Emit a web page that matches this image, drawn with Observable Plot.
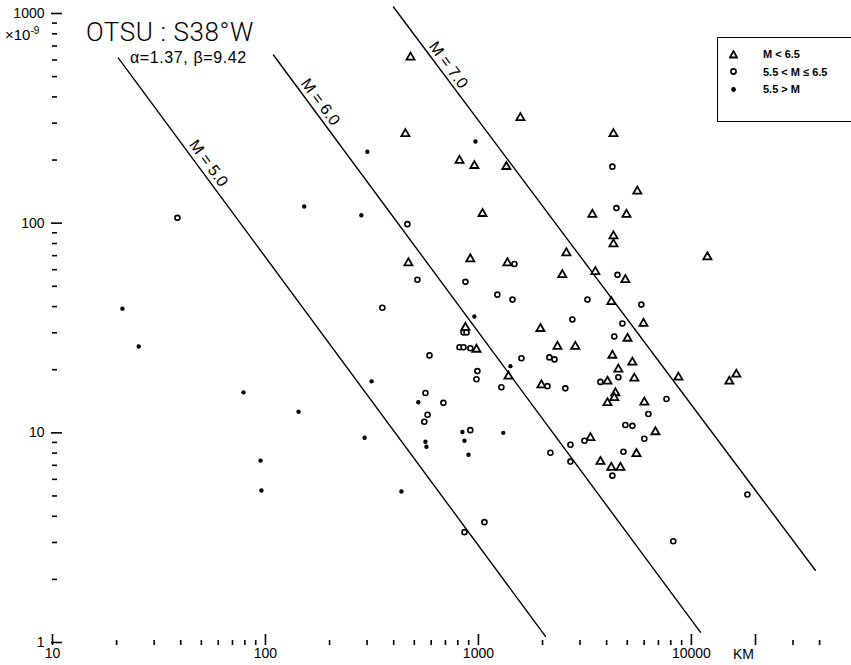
<!DOCTYPE html>
<html>
<head>
<meta charset="utf-8">
<script src="https://cdn.jsdelivr.net/npm/d3@7"></script>
<script src="https://cdn.jsdelivr.net/npm/@observablehq/plot@0.6"></script>
<style>
  body { margin: 0; background: #fff; overflow: hidden; }
  #wrap { position: relative; width: 851px; height: 665px; overflow: hidden; font-family: "Liberation Sans", Arial, sans-serif; color: #000; }
  #wrap svg { display: block; }
  .title { position: absolute; left: 86px; top: 19px; font-family: Roboto, "Liberation Sans", Arial, sans-serif; font-size: 26px; line-height: 1; font-weight: 300; letter-spacing: 0.6px; white-space: nowrap; }
  .subtitle { position: absolute; left: 130px; top: 50px; font-size: 16px; line-height: 1; letter-spacing: 0.6px; white-space: nowrap; }
  .unit { position: absolute; left: 5px; top: 26px; font-size: 15px; line-height: 1; white-space: nowrap; }
  .km { position: absolute; left: 733px; top: 647px; font-size: 14px; line-height: 1; white-space: nowrap; }
  .legend { position: absolute; left: 717px; top: 37px; width: 170px; height: 85px; border: 1.3px solid #000; box-sizing: border-box; background: #fff; }
  .legend .row { position: absolute; left: 11px; height: 14px; display: flex; align-items: center; font-size: 11px; font-weight: bold; white-space: nowrap; }
  .legend .row svg { margin-right: 25px; }
</style>
</head>
<body>
<div id="wrap"></div>
<script>
// ---- data (distance in km, amplitude x10^-9) ----
const triangles = [
  [480,618],[1574,318],[454,267],[4305,267],[815,199],[957,188],[1352,186],[5570,142],
  [4955,110],[3427,110],[1045,111],[4305,86.8],[4305,79.5],[916,67.5],[469,64.6],[2588,72.1],
  [1368,64.6],[3540,58.6],[4898,53.7],[2477,56.7],[4207,42.2],[5957,33.2],[869,31.8],[1955,31.4],
  [5012,28.2],[979,25.0],[2350,25.8],[2851,25.8],[4256,23.4],[5284,21.7],[4540,20.1],[5395,18.2],
  [8690,18.4],[1384,18.6],[1977,16.9],[4036,17.6],[4395,15.5],[4345,14.7],[4036,13.9],[6012,14.0],
  [6776,10.1],[3357,9.47],[5521,7.95],[3741,7.29],[4207,6.83],[4645,6.83],[11885,69.0],[16255,19.0],
  [15070,17.6]
];
const circles = [
  [4256,186],[4446,118],[464,98.9],[1476,63.9],[4497,56.7],[517,53.7],[869,52.5],[354,39.5],
  [1227,45.6],[1445,43.2],[3251,43.2],[5821,40.9],[2761,34.7],[4743,33.2],[851,30.1],[879,30.1],
  [4345,28.8],[815,25.6],[851,25.6],[916,25.3],[589,23.4],[1592,22.7],[2153,22.9],[2275,22.4],
  [4540,18.4],[989,19.7],[979,18.0],[1282,16.5],[2109,16.7],[2559,16.3],[3741,17.5],[7638,14.5],
  [6281,12.3],[564,15.5],[685,13.9],[577,12.2],[557,11.3],[916,10.3],[2704,8.77],[3148,9.16],
  [4898,10.9],[5284,10.8],[6012,9.37],[2178,8.04],[2704,7.29],[4797,8.13],[4256,6.25],[18323,5.08],
  [1067,3.75],[860,3.36],[8222,3.04],[38.6,106]
];
const filled = [
  [968,245],[957,35.9],[1413,20.8],[522,14.0],[841,10.1],[1308,10.0],[860,9.16],[564,9.06],
  [570,8.58],[898,7.86],[435,5.25],[301,219],[152,120],[282,109],[21.3,39.1],[25.4,25.8],
  [315,17.6],[78.9,15.6],[143,12.6],[292,9.47],[94.8,7.37],[95.7,5.31]
];
// magnitude lines: end points [distance, amplitude]
const magnitudes = ["M = 5.0", "M = 6.0", "M = 7.0"];
const lineStart = [[20.4,613],[109,634],[399,1074]];
const lineEnd   = [[2065,1.07],[11020,1.12],[38200,2.21]];
const labelPos  = [[54,193],[181,378],[723,568]];

const xMajor = [10, 100, 1000, 10000, 20000];
const xMinor = [20,30,40,50,60,70,80,90,200,300,400,500,600,700,800,900,
                2000,3000,4000,5000,6000,7000,8000,9000,30000,40000];
const xLabelValues = [10, 100, 1000, 10000];
const xLabelText = ["10", "100", "1000", "10000"];
const yMajor = [1, 10, 100, 1000];
const yMinor = [2,3,4,5,6,7,8,9,20,30,40,50,60,70,80,90,200,300,400,500,600,700,800,900];
const yLabelText = ["1", "10", "100", "1000"];
const legendItems = ["M < 6.5", "5.5 < M ≤ 6.5", "5.5 > M"];

// ---- tables for the library ----
const toRows = arr => arr.map(([d, a]) => ({d, a}));
const lineRows = magnitudes.flatMap((m, i) => [
  {m, d: lineStart[i][0], a: lineStart[i][1]},
  {m, d: lineEnd[i][0], a: lineEnd[i][1]}
]);
const labelRows = magnitudes.map((m, i) => ({m, d: labelPos[i][0], a: labelPos[i][1]}));
const xFmt = new Map(xLabelValues.map((v, i) => [v, xLabelText[i]]));
const yFmt = new Map(yMajor.map((v, i) => [v, yLabelText[i]]));

const chart = Plot.plot({
  width: 851,
  height: 665,
  marginLeft: 52,
  marginRight: 21,
  marginTop: 13,
  marginBottom: 23,
  x: {type: "log", domain: [10, 45000], label: null},
  y: {type: "log", domain: [1, 1000], label: null},
  style: {fontFamily: "'Liberation Sans', Arial, sans-serif", background: "#fff", color: "#000", overflow: "visible"},
  marks: [
    // axes (ticks drawn inside the frame as in the original)
    Plot.axisY(yMinor, {anchor: "left", tickSize: 5, dx: 5, tickFormat: () => "", strokeWidth: 1.6}),
    Plot.axisY(yMajor, {anchor: "left", tickSize: 11, dx: 10, tickFormat: () => "", strokeWidth: 1.6}),
    Plot.axisY(yMajor, {anchor: "left", tickSize: 0, tickPadding: 8, tickFormat: d => yFmt.get(d), fontSize: 14}),
    Plot.axisX(xMinor, {anchor: "bottom", tickSize: 5, dy: -2, tickFormat: () => "", strokeWidth: 1.6}),
    Plot.axisX(xMajor, {anchor: "bottom", tickSize: 11, dy: -8, tickFormat: () => "", strokeWidth: 1.6}),
    Plot.axisX(xLabelValues, {anchor: "bottom", tickSize: 0, tickPadding: 6, tickFormat: d => xFmt.get(d), fontSize: 14}),
    // magnitude lines
    Plot.line(lineRows, {x: "d", y: "a", z: "m", stroke: "#000", strokeWidth: 1.4}),
    Plot.text(labelRows, {x: "d", y: "a", text: "m", rotate: 53.6, fontSize: 16, fill: "#000"}),
    // observations
    Plot.dot(toRows(triangles), {x: "d", y: "a", symbol: "triangle", r: 3.0, stroke: "#000", strokeWidth: 1.8, fill: "#fff"}),
    Plot.dot(toRows(circles), {x: "d", y: "a", symbol: "circle", r: 2.5, stroke: "#000", strokeWidth: 1.6, fill: "#fff"}),
    Plot.dot(toRows(filled), {x: "d", y: "a", symbol: "circle", r: 2.2, fill: "#000"})
  ]
});

const wrap = document.getElementById("wrap");
wrap.appendChild(chart);

function addDiv(cls, text) {
  const el = document.createElement("div");
  el.className = cls;
  el.textContent = text;
  wrap.appendChild(el);
  return el;
}
addDiv("title", "OTSU : S38°W");
addDiv("subtitle", "α=1.37,  β=9.42");
const unit = addDiv("unit", "");
unit.innerHTML = "×10<sup style='font-size:10px'>-9</sup>";
addDiv("km", "KM");

// legend
const legend = document.createElement("div");
legend.className = "legend";
const symbols = [
  '<svg width="9" height="9"><path d="M4.5,1 L8,7.5 L1,7.5 Z" fill="#fff" stroke="#000" stroke-width="1.8"/></svg>',
  '<svg width="9" height="9"><circle cx="4.5" cy="4.5" r="2.6" fill="#fff" stroke="#000" stroke-width="1.6"/></svg>',
  '<svg width="9" height="9"><circle cx="4.5" cy="4.5" r="2.4" fill="#000"/></svg>'
];
legendItems.forEach((t, i) => {
  const row = document.createElement("div");
  row.className = "row";
  row.style.top = (9 + i * 17.5) + "px";
  row.innerHTML = symbols[i];
  const s = document.createElement("span");
  s.textContent = t;
  row.appendChild(s);
  legend.appendChild(row);
});
wrap.appendChild(legend);
</script>
</body>
</html>
